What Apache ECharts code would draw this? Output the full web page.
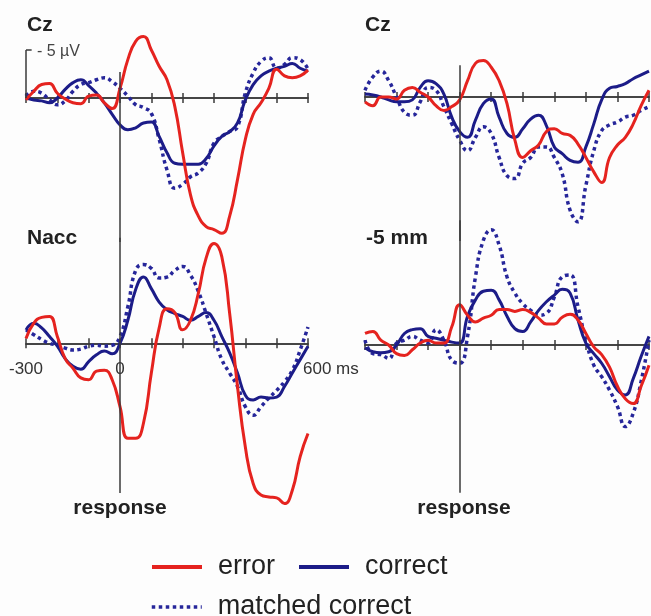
<!DOCTYPE html>
<html>
<head>
<meta charset="utf-8">
<script src="https://cdn.jsdelivr.net/npm/echarts@6/dist/echarts.min.js"></script>
<style>
html,body{margin:0;padding:0;background:#fdfdfd;}
#chart{width:651px;height:616px;}
</style>
</head>
<body>
<div id="chart"></div>
<script>
// time points (ms relative to response)
var times = [-300,-275,-250,-225,-200,-175,-150,-125,-100,-75,-50,-25,0,25,50,75,100,125,150,175,200,225,250,275,300,325,350,375,400,425,450,475,500,525,550,575,600];

// amplitudes in microvolts (negative plotted up)
// Panel 1: Cz (left)
var cz1Error   = [0.2,-0.7,-1.4,-1.5,-0.5,0.1,0.5,0.6,-0.2,-0.3,0.5,1.1,-1.0,-4.0,-5.9,-6.4,-5.0,-3.3,-1.9,0.9,5.7,10.1,12.3,13.4,13.7,14.1,12.3,8.5,4.3,1.7,0.5,-1.0,-3.0,-2.3,-2.1,-2.3,-2.9];
var cz1Correct = [0,0.2,0.3,0.5,0,-0.9,-1.6,-1.9,-1.3,-0.5,0.5,1.7,2.8,3.3,3.1,2.6,2.5,4.0,5.7,6.8,6.9,6.9,6.9,6.3,5.0,4.0,3.5,2.6,0.2,-1.4,-2.3,-2.8,-3.1,-3.3,-3.6,-3.1,-2.8];
var cz1Matched = [-0.2,-0.7,-0.5,0.2,0.7,0.3,-0.7,-1.4,-1.6,-1.9,-2.1,-1.7,-1.0,-0.2,0.7,1.0,1.6,4.3,7.5,9.4,9.0,8.2,7.8,6.8,4.7,4.0,3.5,3.0,-0.5,-2.6,-3.8,-4.2,-3.1,-3.5,-4.2,-4.0,-3.0];
// Panel 2: Cz (right)
var cz2Error   = [0.5,0.9,0,0,0.2,-0.7,-1.0,-0.5,0,0.9,1.4,1.0,0.3,-1.7,-3.5,-3.8,-3.1,-1.7,0.7,4.5,6.3,5.6,5.0,3.6,3.3,3.8,4.0,4.9,6.3,7.8,8.9,6.3,5.0,4.2,2.8,0.9,-0.7];
var cz2Correct = [-0.3,-0.2,0,0.3,0.5,0.5,0.3,-1.0,-1.7,-1.4,-0.3,2.1,3.6,4.2,2.4,0.7,0.2,2.1,3.8,4.2,3.3,2.3,1.9,3.0,5.2,5.9,6.6,6.8,5.2,2.8,0.3,-0.9,-1.1,-1.4,-1.9,-2.3,-2.7];
var cz2Matched = [-0.7,-2.1,-2.7,-1.7,0,1.6,1.9,0.5,-1.0,-0.7,1.0,2.8,4.5,5.6,4.2,3.1,3.8,6.3,8.2,8.5,6.9,6.3,5.2,5.2,6.3,8.0,11.8,13.0,9.2,5.6,3.5,2.9,2.6,2.1,1.9,1.4,1.0];
// Panel 3: Nacc
var naccError   = [-0.5,-2.1,-2.7,-2.8,-0.7,1.6,2.6,3.6,3.8,2.9,2.8,3.8,6.6,9.9,9.9,8.3,3.1,-1.6,-3.6,-3.2,-1.4,-2.4,-5.2,-8.9,-10.4,-9.0,-3.1,4.5,10.8,14.6,15.8,16.0,16.1,16.7,15.3,11.8,9.4];
var naccCorrect = [-1.4,-2.1,-1.6,-0.7,0.3,1.6,2.4,2.7,1.9,1.2,0.8,1.1,0,-2.4,-5.6,-6.9,-5.7,-4.3,-3.5,-3.1,-2.8,-2.4,-2.8,-3.2,-2.4,-0.7,1.0,3.1,5.4,5.9,5.6,5.7,5.6,4.5,3.1,1.7,0.3];
var naccMatched = [-1.4,-0.9,-0.4,0,0.2,0.5,0.7,0.6,0.3,0.2,0.3,0.2,-0.7,-3.8,-7.6,-8.2,-7.8,-6.8,-6.9,-7.6,-8.0,-7.1,-5.4,-3.1,-0.7,1.7,3.1,4.5,6.6,7.5,6.6,5.7,4.9,4.0,2.8,0.7,-1.7];
// Panel 4: -5 mm
var mmError   = [-1.2,-1.4,-0.5,0,0.9,1.1,0.5,-0.2,-0.5,-0.2,-0.2,-1.9,-4.2,-3.1,-2.4,-2.8,-3.1,-3.7,-3.7,-3.5,-3.7,-3.4,-2.8,-2.2,-2.2,-2.9,-3.2,-2.6,-1.2,0.2,1.0,2.3,4.3,5.6,6.1,4.3,2.1];
var mmCorrect = [0.3,0.7,0.8,0.7,0,-1.2,-1.6,-1.7,-0.9,-0.7,-0.5,-0.3,-0.2,-3.0,-4.7,-5.6,-5.7,-4.7,-3.0,-1.7,-1.4,-2.4,-3.6,-4.5,-5.2,-5.8,-5.4,-2.6,-0.2,0.9,1.9,3.3,4.7,5.2,3.5,1.2,-0.9];
var mmMatched = [-0.5,0.9,1.0,1.4,-0.2,-0.5,-0.9,-0.5,-0.2,-1.6,-0.5,1.6,1.9,-0.9,-7.1,-10.9,-12.0,-10.4,-7.1,-5.4,-4.3,-3.6,-3.1,-3.3,-5.0,-7.1,-7.3,-4.0,-0.5,2.1,3.3,4.7,6.4,8.5,7.1,3.8,-0.5];

var xTickLabels = [-300, 0, 600];
var xUnit = 'ms';
var panelTitles = ['Cz', 'Cz', 'Nacc', '-5 mm'];
var seriesNames = ['error', 'correct', 'matched correct'];
var scaleBarText = '- 5 \u00B5V';

var panels = [
  {err: cz1Error, cor: cz1Correct, mat: cz1Matched},
  {err: cz2Error, cor: cz2Correct, mat: cz2Matched},
  {err: naccError, cor: naccCorrect, mat: naccMatched},
  {err: mmError, cor: mmCorrect, mat: mmMatched}
];

var FONT = '"Liberation Sans", Arial, sans-serif';
var RED = '#e5231f', BLUE = '#1c1c88', DOT = '#26269a', AX = '#3a3a3a';

function pairs(vals){ return times.map(function(t,i){ return [t, vals[i]]; }); }

var grids = [
  {left: 26, width: 282, top: 2, height: 240},
  {left: 365, width: 284, top: 1, height: 240},
  {left: 26, width: 282, top: 237.7, height: 278.4},
  {left: 365, width: 284, top: 220.2, height: 297.6}
];
var yRanges = [[-10,15],[-10,15],[-11,18],[-13,18]];
// vertical "response" line extents (µV)
var vLines = [[-2.7,15],[-3.3,15],[-11,15.6],[-13,15.4]];

var xAxes = [], yAxes = [], series = [];
grids.forEach(function(g, i){
  xAxes.push({
    type: 'value', gridIndex: i, min: -300, max: 600, interval: 100, position: 'bottom',
    axisLine: {show: true, onZero: true, onZeroAxisIndex: i, lineStyle: {color: AX, width: 1.5}},
    axisTick: {show: true, inside: false, length: 5, lineStyle: {color: AX, width: 1.5}},
    splitLine: {show: false}, axisLabel: {show: false}
  });
  xAxes.push({
    type: 'value', gridIndex: i, min: -300, max: 600, interval: 100, position: 'top',
    axisLine: {show: true, onZero: true, onZeroAxisIndex: i, lineStyle: {color: AX, width: 1.5}},
    axisTick: {show: true, inside: false, length: 5, lineStyle: {color: AX, width: 1.5}},
    splitLine: {show: false}, axisLabel: {show: false}
  });
  yAxes.push({type: 'value', gridIndex: i, inverse: true, min: yRanges[i][0], max: yRanges[i][1], show: false});
});

var lineBase = {type: 'line', smooth: 0.5, symbol: 'none', showSymbol: false, animation: false};
panels.forEach(function(p, i){
  var mlData = [[{coord: [0, vLines[i][0]]}, {coord: [0, vLines[i][1]]}]];
  if (i === 0) {
    mlData.push([{coord: [-300, 0]}, {coord: [-300, -5]}]);
    mlData.push([{coord: [-300, -5]}, {coord: [-282, -5]}]);
  }
  series.push(Object.assign({}, lineBase, {
    name: seriesNames[2], xAxisIndex: i*2, yAxisIndex: i, data: pairs(p.mat),
    lineStyle: {color: DOT, width: 3.5, type: [3.5, 3.5]}, itemStyle: {color: DOT},
    markLine: {silent: true, symbol: ['none','none'], animation: false, label: {show: false},
      lineStyle: {color: AX, width: 1.5, type: 'solid'}, data: mlData}
  }));
  series.push(Object.assign({}, lineBase, {
    name: seriesNames[1], xAxisIndex: i*2, yAxisIndex: i, data: pairs(p.cor),
    lineStyle: {color: BLUE, width: 3}, itemStyle: {color: BLUE}
  }));
  series.push(Object.assign({}, lineBase, {
    name: seriesNames[0], xAxisIndex: i*2, yAxisIndex: i, data: pairs(p.err),
    lineStyle: {color: RED, width: 3}, itemStyle: {color: RED}
  }));
});

function txt(id, s, x, y, size, weight, align, color){
  return {type: 'text', id: id, x: x, y: y, silent: true,
    style: {text: s, font: weight + ' ' + size + 'px ' + FONT, fill: color || '#222', align: align || 'left', verticalAlign: 'middle'}};
}

var legendText = {fontSize: 27, color: '#222', fontFamily: FONT, padding: [0,0,0,11], lineHeight: 30};

var option = {
  backgroundColor: '#fdfdfd',
  animation: false,
  grid: grids,
  xAxis: xAxes,
  yAxis: yAxes,
  series: series,
  legend: [
    {data: ['error', 'correct'], left: 150, top: 552, padding: 0, itemWidth: 50, itemHeight: 14, itemGap: 22,
     textStyle: legendText, selectedMode: false, lineStyle: {width: 4}, itemStyle: {opacity: 0}},
    {data: ['matched correct'], left: 150, top: 592, padding: 0, itemWidth: 50, itemHeight: 14, itemGap: 22,
     textStyle: legendText, selectedMode: false, lineStyle: {width: 3.5}, itemStyle: {opacity: 0}}
  ],
  graphic: [
    txt('t0', panelTitles[0], 27, 25, 21, 'bold'),
    txt('t1', panelTitles[1], 365, 25, 21, 'bold'),
    txt('t2', panelTitles[2], 27, 238, 21, 'bold'),
    txt('t3', panelTitles[3], 366, 238, 21, 'bold'),
    txt('r0', 'response', 120, 508, 21, 'bold', 'center'),
    txt('r1', 'response', 464, 508, 21, 'bold', 'center'),
    txt('sb', scaleBarText, 37, 52, 16, 'normal', 'left', '#444')
  ]
};

var chart = echarts.init(document.getElementById('chart'), null, {renderer: 'canvas'});
chart.setOption(option);

// tick labels of the Nacc panel, positioned through the panel's own axis scales
var zeroY = chart.convertToPixel({yAxisIndex: 2}, 0);
var labelEls = xTickLabels.map(function(v, k){
  var px = chart.convertToPixel({xAxisIndex: 4}, v);
  var last = (k === xTickLabels.length - 1);
  return txt('xl' + k, last ? (v + ' ' + xUnit) : String(v), last ? px - 5 : px, zeroY + 26, 17, 'normal', last ? 'left' : 'center', '#333');
});
chart.setOption({graphic: labelEls});
</script>
</body>
</html>
